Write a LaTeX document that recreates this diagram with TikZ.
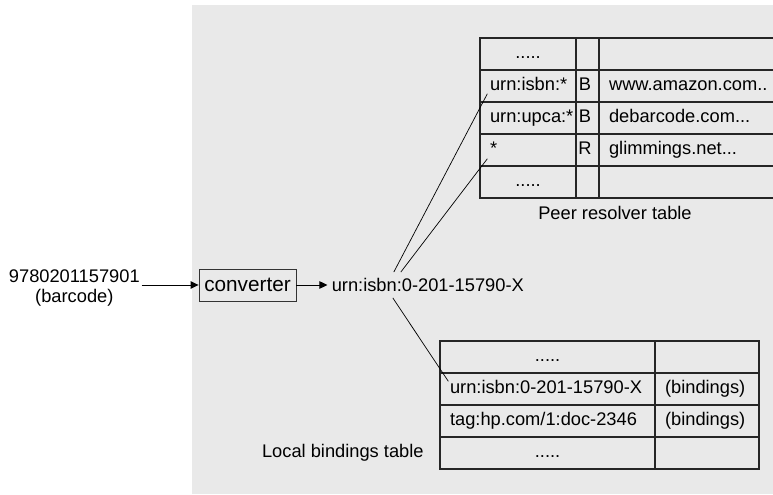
\documentclass[tikz,border=0pt]{standalone}
\usepackage{fontspec}
\setmainfont{Liberation Sans}
\usetikzlibrary{arrows.meta, positioning, matrix}
\definecolor{panelgray}{HTML}{E9E9E9}

\begin{document}
\begin{tikzpicture}[
  font=\fontsize{10.4}{11.4}\selectfont,
  arr/.style={-{Triangle[length=0.16cm, width=0.15cm]}, line width=0.5pt},
  wire/.style={line width=0.4pt},
  convbox/.style={draw=black!80, line width=0.5pt, minimum width=1.94cm, minimum height=0.64cm,
                  inner xsep=0.05cm, font=\fontsize{11.8}{13}\selectfont},
  tbl/.style={matrix of nodes, anchor=north west, inner sep=0pt, nodes in empty cells,
    column sep=-0.8pt, row sep=-0.8pt,
    nodes={draw=black!85, line width=0.8pt, minimum height=0.64cm, text height=0.27cm,
           text depth=0.08cm, inner xsep=0.2cm, inner ysep=0pt, align=left}},
  gapcell/.style={align=center}
]
\useasboundingbox (0,0) rectangle (15.46,9.9);
\clip (0,0) rectangle (15.46,9.9);
\fill[panelgray] (3.84,0.02) rectangle (15.46,9.8);

\node[convbox] (conv) at (4.95,4.2) {converter};
\node[left=1.14cm of conv, align=center, inner sep=0.03cm, yshift=-0.06cm] (barcode) {9780201157901\\(barcode)};
\node[right=0.62cm of conv, inner xsep=0.08cm] (urn) {urn:isbn:0-201-15790-X};

% peer resolver table
\matrix (peer) [tbl,
  column 1/.style={nodes={text width=1.52cm}},
  column 2/.style={nodes={minimum width=0.46cm, inner xsep=0pt}},
  column 3/.style={nodes={text width=3.4cm}}] at (9.58,9.16) {
  |[gapcell]| ..... & & \\
  urn:isbn:* & B & www.amazon.com.. \\
  urn:upca:* & B & debarcode.com... \\
  * & R & glimmings.net... \\
  |[gapcell]| ..... & & \\
};
\node (peerlbl) at (12.3,5.64) {Peer resolver table};

% local bindings table
\matrix (local) [tbl,
  column 1/.style={nodes={text width=3.9cm}},
  column 2/.style={nodes={text width=1.68cm}}] at (8.78,3.10) {
  |[gapcell]| ..... & \\
  urn:isbn:0-201-15790-X & (bindings) \\
  tag:hp.com/1:doc-2346 & (bindings) \\
  |[gapcell]| ..... & \\
};
\node[left=0.19cm of local-4-1] (locallbl) {Local bindings table};

\draw[arr] (barcode.east |- conv.west) -- (conv.west);
\draw[arr] (conv) -- (urn);
\draw[wire] ([xshift=-0.68cm]urn.north) -- ([shift={(0.16,0.18)}]peer-2-1.south west);
\draw[wire] ([xshift=-0.54cm]urn.north) -- ([shift={(0.16,0.16)}]peer-4-1.south west);
\draw[wire] ([xshift=-0.7cm]urn.south) -- ([shift={(0.18,-0.18)}]local-2-1.north west);
\end{tikzpicture}
\end{document}
